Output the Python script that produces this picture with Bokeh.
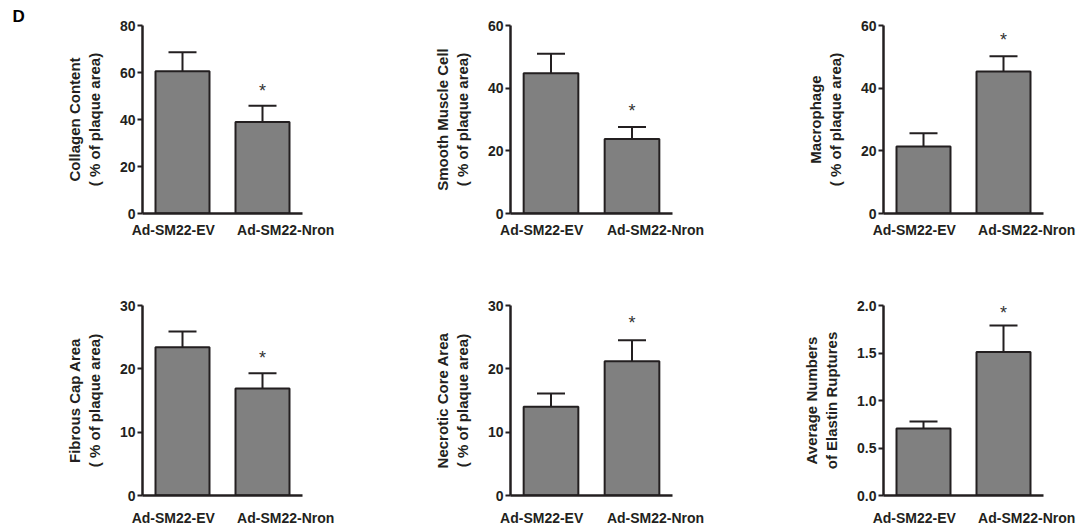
from bokeh.plotting import figure
from bokeh.models import Range1d, FixedTicker, Whisker, TeeHead, ColumnDataSource
from bokeh.layouts import column, row
from bokeh.embed import file_html
from bokeh.resources import INLINE
from bokeh.core.properties import value

groups = ["Ad-SM22-EV", "Ad-SM22-Nron"]

collagen_mean = [60.5, 38.9]
collagen_err = [8.1, 6.9]
smc_mean = [44.8, 23.8]
smc_err = [6.2, 3.8]
mac_mean = [21.4, 45.3]
mac_err = [4.2, 4.9]
fibrous_mean = [23.4, 16.9]
fibrous_err = [2.5, 2.4]
necrotic_mean = [14.0, 21.2]
necrotic_err = [2.1, 3.3]
elastin_mean = [0.705, 1.51]
elastin_err = [0.075, 0.28]

star_y = [54.0, 34.0, 56.8, 22.4, 27.8, 1.96]

labels = [
    "Collagen Content\n( % of plaque area)",
    "Smooth Muscle Cell\n( % of plaque area)",
    "Macrophage\n( % of plaque area)",
    "Fibrous Cap Area\n( % of plaque area)",
    "Necrotic Core Area\n( % of plaque area)",
    "Average Numbers\nof Elastin Ruptures",
]
y_max = [80, 60, 60, 30, 30, 2.0]
y_ticks = [
    [0, 20, 40, 60, 80],
    [0, 20, 40, 60],
    [0, 20, 40, 60],
    [0, 10, 20, 30],
    [0, 10, 20, 30],
    [0, 0.5, 1.0, 1.5, 2.0],
]
means = [collagen_mean, smc_mean, mac_mean, fibrous_mean, necrotic_mean, elastin_mean]
errs = [collagen_err, smc_err, mac_err, fibrous_err, necrotic_err, elastin_err]

INK = "#231f20"
FONT = "Liberation Sans"

# horizontal layout per column: (left border, frame width, right border)
col_geom = [(142, 160, 74), (134, 162, 77), (134, 160, 35)]
# vertical layout per row: (top border, frame height, bottom border, label standoff)
row_geom = [(25, 188, 37, 8), (55, 190, 31, 14)]
# shift of the group labels relative to their bar centres (in group-slot units)
label_shift = [-0.115, 0.29]


def make_panel(i):
    r, c = divmod(i, 3)
    left, fw, right = col_geom[c]
    top, fh, bottom, standoff = row_geom[r]
    n = len(groups)
    p = figure(x_range=Range1d(0, n), y_range=Range1d(0, y_max[i]),
               frame_width=fw, frame_height=fh,
               min_border_left=left, min_border_right=right,
               min_border_top=top, min_border_bottom=bottom,
               toolbar_location=None, output_backend="svg",
               background_fill_color="white", border_fill_color="white")
    p.outline_line_color = None
    p.xgrid.visible = False
    p.ygrid.visible = False

    xpos = [k + 0.5 for k in range(n)]
    src = ColumnDataSource(dict(x=xpos, mean=means[i],
                                upper=[m + e for m, e in zip(means[i], errs[i])]))
    p.vbar(x="x", top="mean", width=0.675, source=src,
           fill_color="#808080", line_color=INK, line_width=2)
    w = Whisker(source=src, base="x", lower="mean", upper="upper",
                line_color=INK, line_width=2, lower_head=None,
                upper_head=TeeHead(size=28, line_color=INK, line_width=2))
    p.add_layout(w)

    p.text(x=[xpos[1]], y=[star_y[i]], text=["*"], text_align="center",
           text_baseline="middle", y_offset=4, text_font=value(FONT),
           text_font_size="18px", text_color="#333333", level="overlay")

    xa = p.xaxis[0]
    ticks = [xpos[k] + label_shift[k] for k in range(n)]
    xa.ticker = FixedTicker(ticks=ticks)
    xa.major_label_overrides = {t: g for t, g in zip(ticks, groups)}
    xa.axis_line_color = INK
    xa.axis_line_width = 2.5
    xa.major_tick_line_color = None
    xa.minor_tick_line_color = None
    xa.major_tick_out = 0
    xa.major_tick_in = 0
    xa.major_label_standoff = standoff
    xa.major_label_text_font = FONT
    xa.major_label_text_font_style = "bold"
    xa.major_label_text_font_size = "14px"
    xa.major_label_text_color = INK

    ya = p.yaxis[0]
    ya.axis_line_color = INK
    ya.axis_line_width = 2.5
    ya.ticker = FixedTicker(ticks=y_ticks[i])
    if i == 5:
        ya.major_label_overrides = {t: f"{t:.1f}" for t in y_ticks[i]}
    ya.major_label_text_font = FONT
    ya.major_label_text_font_style = "bold"
    ya.major_label_text_font_size = "14px"
    ya.major_label_text_color = INK
    ya.major_tick_line_color = INK
    ya.major_tick_line_width = 2
    ya.major_tick_out = 5
    ya.major_tick_in = 0
    ya.minor_tick_line_color = None
    ya.major_label_standoff = 2
    ya.axis_label = labels[i]
    ya.axis_label_text_font = FONT
    ya.axis_label_text_font_style = "bold"
    ya.axis_label_text_font_size = "15px"
    ya.axis_label_text_color = INK
    ya.axis_label_standoff = 14

    if i == 0:
        p.title.text = "D"
        p.title.align = "left"
        p.title.offset = -130
        p.title.standoff = 0
        p.title.text_font = FONT
        p.title.text_font_style = "bold"
        p.title.text_font_size = "17px"
        p.title.text_color = "black"
    return p


panels = [make_panel(i) for i in range(6)]
layout = column(row(*panels[:3], spacing=0), row(*panels[3:], spacing=0), spacing=0)

open("out.html", "w").write(file_html(layout, INLINE))
